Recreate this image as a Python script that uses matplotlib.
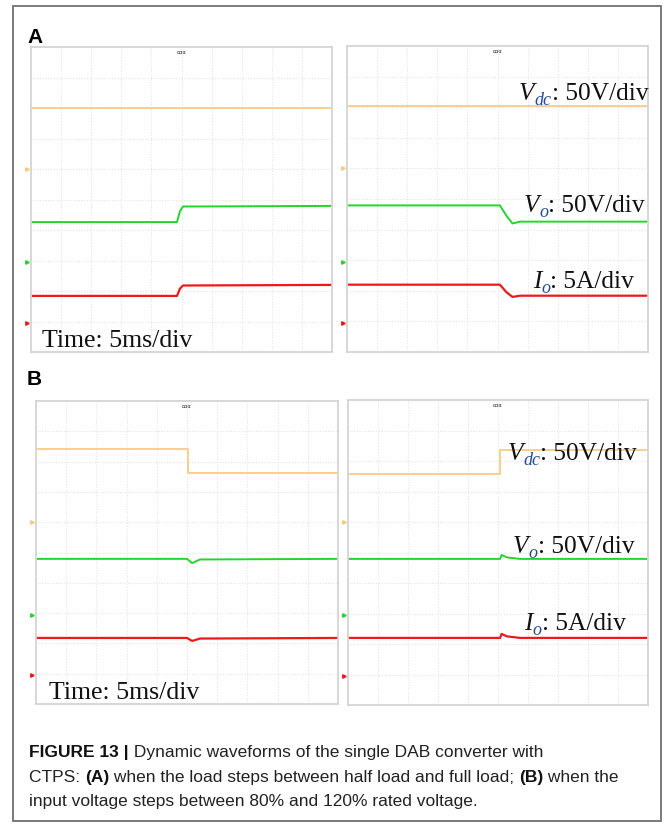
import matplotlib.pyplot as plt

W, H = 665, 825

# scope traces: x in time divisions (5 ms/div), y in vertical divisions (0..10)
# (A) left: load step half -> full
a1_t_vdc = [0, 10]
a1_vdc = [8.0, 8.0]
a1_t_vo = [0, 4.85, 4.95, 5.05, 10]
a1_vo = [4.26, 4.26, 4.62, 4.77, 4.79]
a1_t_io = [0, 4.85, 4.95, 5.05, 10]
a1_io = [1.84, 1.84, 2.08, 2.18, 2.2]

# (A) right: load step full -> half
a2_t_vdc = [0, 10]
a2_vdc = [8.03, 8.03]
a2_t_vo = [0, 5.08, 5.3, 5.5, 5.75, 10]
a2_vo = [4.79, 4.79, 4.45, 4.2, 4.26, 4.26]
a2_t_io = [0, 5.08, 5.3, 5.5, 5.75, 10]
a2_io = [2.2, 2.2, 1.95, 1.8, 1.84, 1.84]

# (B) left: input voltage 120% -> 80%
b1_t_vdc = [0, 5.03, 5.03, 10]
b1_vdc = [8.42, 8.42, 7.62, 7.62]
b1_t_vo = [0, 5.0, 5.17, 5.43, 10]
b1_vo = [4.79, 4.79, 4.65, 4.77, 4.79]
b1_t_io = [0, 5.0, 5.17, 5.43, 10]
b1_io = [2.18, 2.18, 2.08, 2.16, 2.18]

# (B) right: input voltage 80% -> 120%
b2_t_vdc = [0, 5.07, 5.07, 10]
b2_vdc = [7.57, 7.57, 8.36, 8.36]
b2_t_vo = [0, 5.07, 5.12, 5.3, 5.73, 10]
b2_vo = [4.79, 4.79, 4.92, 4.84, 4.79, 4.79]
b2_t_io = [0, 5.07, 5.12, 5.3, 5.73, 10]
b2_io = [2.2, 2.2, 2.33, 2.25, 2.2, 2.2]

# ground markers of the three channels
mark_vdc = 6.0
mark_vo = 2.95
mark_io = 0.96

c_vdc = '#fbc778'
c_vo = '#22d62a'
c_io = '#f01818'

fig = plt.figure(figsize=(W / 100, H / 100), dpi=100)


def screen(box, traces):
    """Dibuja una pantalla de osciloscopio en la caja (x0, y0, x1, y1) en pixeles."""
    x0, y0, x1, y1 = box
    ax = fig.add_axes([x0 / W, 1 - y1 / H, (x1 - x0) / W, (y1 - y0) / H])
    ax.set_xlim(0, 10)
    ax.set_ylim(0, 10)
    ax.set_xticks(range(1, 10))
    ax.set_yticks(range(1, 10))
    ax.tick_params(length=0, labelbottom=False, labelleft=False)
    ax.grid(True, color='#e4e4e4', linestyle=(0, (1, 1.5)), linewidth=0.8)
    for s in ax.spines.values():
        s.set_color('#d4d4d4')
        s.set_linewidth(1.3)
    for (t, v, c, lw) in traces:
        ax.plot(t, v, color=c, linewidth=lw, solid_joinstyle='round')
    for (m, c) in [(mark_vdc, c_vdc), (mark_vo, c_vo), (mark_io, c_io)]:
        ax.plot([-0.12], [m], marker='>', markersize=2.5, color=c, clip_on=False)
    ax.text(5, 9.83, 'ααα', fontsize=3.5, ha='center', va='center', color='#222222')
    return ax


screen((31, 47, 332, 352), [(a1_t_vdc, a1_vdc, c_vdc, 1.2), (a1_t_vo, a1_vo, c_vo, 1.4),
                            (a1_t_io, a1_io, c_io, 1.6)])
screen((347, 46, 648, 352), [(a2_t_vdc, a2_vdc, c_vdc, 1.2), (a2_t_vo, a2_vo, c_vo, 1.4),
                             (a2_t_io, a2_io, c_io, 1.6)])
screen((36, 401, 338, 704), [(b1_t_vdc, b1_vdc, c_vdc, 1.2), (b1_t_vo, b1_vo, c_vo, 1.4),
                             (b1_t_io, b1_io, c_io, 1.6)])
screen((348, 400, 648, 705), [(b2_t_vdc, b2_vdc, c_vdc, 1.2), (b2_t_vo, b2_vo, c_vo, 1.4),
                              (b2_t_io, b2_io, c_io, 1.6)])

# capa superior en pixeles para textos y marco
ax0 = fig.add_axes([0, 0, 1, 1])
ax0.set_xlim(0, W)
ax0.set_ylim(H, 0)
ax0.axis('off')
ax0.patch.set_alpha(0)
ax0.add_patch(plt.Rectangle((13, 6), 648, 815, fill=False, edgecolor='#707070', linewidth=1.3))

fig.canvas.draw()
renderer = fig.canvas.get_renderer()


def piezas(x, y, parts):
    """Escribe trozos de texto uno detras de otro, alineados a la linea base."""
    for (s, kw, dy) in parts:
        t = ax0.text(x, y + dy, s, ha='left', va='baseline', **kw)
        x += t.get_window_extent(renderer).width


serif = dict(family='Liberation Serif', fontsize=18.3, color='#111111')
serif_it = dict(family='Liberation Serif', fontsize=18.3, style='italic', color='#111111')
sub = dict(family='Liberation Serif', fontsize=13, style='italic', color='#1f4aa0')


def etiqueta(x, y, var, subi, resto):
    piezas(x, y, [(var, serif_it, 0), (subi, sub, 5), (resto, serif, 0)])


etiqueta(519, 100, 'V', 'dc', ': 50V/div')
etiqueta(524, 212, 'V', 'o', ': 50V/div')
etiqueta(533, 288, 'I', 'o', ': 5A/div')
etiqueta(508, 460, 'V', 'dc', ': 50V/div')
etiqueta(513, 553, 'V', 'o', ': 50V/div')
etiqueta(524, 630, 'I', 'o', ': 5A/div')

ax0.text(42, 347, 'Time: 5ms/div', family='Liberation Serif', fontsize=18.6,
         color='#111111', va='baseline')
ax0.text(49, 699, 'Time: 5ms/div', family='Liberation Serif', fontsize=18.6,
         color='#111111', va='baseline')

ax0.text(27, 43, 'A', family='Liberation Sans', fontsize=15, fontweight='bold', va='baseline')
ax0.text(27, 385, 'B', family='Liberation Sans', fontsize=15, fontweight='bold', va='baseline')

# pie de figura
n = dict(family='Liberation Sans', fontsize=12.5, color='#222222')
b = dict(family='Liberation Sans', fontsize=12.5, color='#111111', fontweight='bold')
piezas(29, 757, [('FIGURE 13 |', b, 0),
                 (' Dynamic waveforms of the single DAB converter with', n, 0)])
piezas(29, 782, [('CTPS: ', n, 0), ('(A)', b, 0),
                 (' when the load steps between half load and full load; ', n, 0),
                 ('(B)', b, 0), (' when the', n, 0)])
piezas(29, 806, [('input voltage steps between 80% and 120% rated voltage.', n, 0)])

fig.savefig('out.png', dpi=100)
